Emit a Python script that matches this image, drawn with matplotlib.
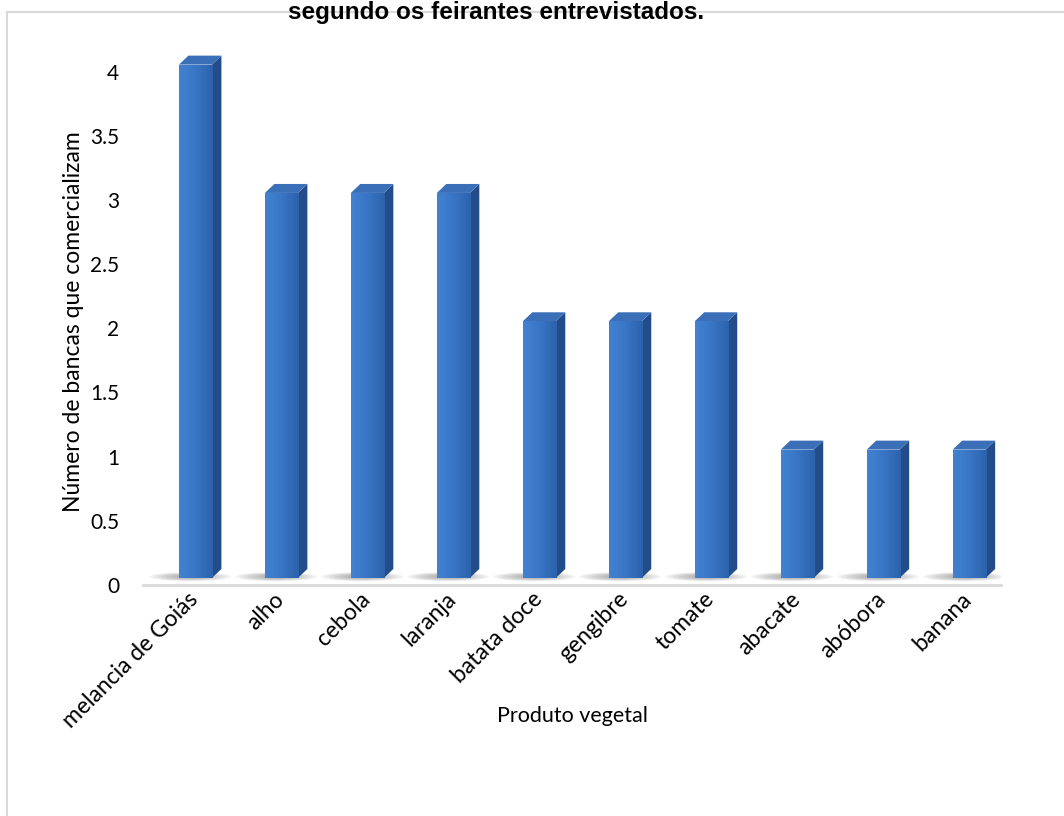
import numpy as np
import matplotlib.pyplot as plt
import matplotlib.transforms as mtrans
from matplotlib.patches import Polygon, Rectangle, Ellipse
from matplotlib.lines import Line2D
from matplotlib.colors import LinearSegmentedColormap

plt.rcParams['font.family'] = ['Lato', 'DejaVu Sans']

produtos = ['melancia de Goiás', 'alho', 'cebola', 'laranja', 'batata doce',
            'gengibre', 'tomate', 'abacate', 'abóbora', 'banana']
bancas = [4, 3, 3, 3, 2, 2, 2, 1, 1, 1]
yticks = [0, 0.5, 1, 1.5, 2, 2.5, 3, 3.5, 4]
ytick_labels = ['0', '0.5', '1', '1.5', '2', '2.5', '3', '3.5', '4']

W, H = 1064, 816
fig = plt.figure(figsize=(W / 100, H / 100), dpi=100)
ax = fig.add_axes([143 / W, 1 - 585 / H, (1001 - 143) / W, (585 - 46) / H])

# bar geometry (data units)
hw = 0.192            # half width of front face
dx, dy = 0.11, 0.07   # depth offset
base = 0.055

grad = np.linspace(0, 1, 64).reshape(1, -1)
front_cmap = LinearSegmentedColormap.from_list('front', ['#4282d2', '#3975c4', '#2c62ab'])

for i, v in enumerate(bancas):
    x0, x1 = i - hw, i + hw
    y0, y1 = base, base + v
    # floor shadow
    for k in range(8):
        ax.add_patch(Ellipse((i - 0.06, base + 0.01), 0.95 - k * 0.09, 0.07 - k * 0.006,
                             facecolor='#6f6f6f', edgecolor='none', alpha=0.08, zorder=1))
    # side face
    ax.add_patch(Polygon([(x1, y0), (x1 + dx, y0 + dy), (x1 + dx, y1 + dy), (x1, y1)],
                         closed=True, facecolor='#224d89', edgecolor='none', zorder=2))
    # top face
    ax.add_patch(Polygon([(x0, y1), (x0 + dx, y1 + dy), (x1 + dx, y1 + dy), (x1, y1)],
                         closed=True, facecolor='#3b70b9', edgecolor='none', zorder=2))
    # front face with gradient
    rect = Rectangle((x0, y0), 2 * hw, v, facecolor='none', edgecolor='none', zorder=3)
    ax.add_patch(rect)
    im = ax.imshow(grad, cmap=front_cmap, extent=(x0, x1, y0, y1), aspect='auto', zorder=3)
    im.set_clip_path(rect)

ax.set_xlim(-0.61, 9.37)
ax.set_ylim(0, 4.2)

for s in ['top', 'right', 'left']:
    ax.spines[s].set_visible(False)
ax.spines['bottom'].set_color('#d9d9d9')
ax.spines['bottom'].set_linewidth(2)

ax.set_yticks(yticks)
ax.set_yticklabels(ytick_labels)
ax.set_xticks(range(len(produtos)))
ax.set_xticklabels(produtos, rotation=45, ha='right', rotation_mode='anchor')
ax.tick_params(axis='both', length=0, labelsize=15, colors='black')
ax.tick_params(axis='x', labelsize=16.5, pad=4)
ax.tick_params(axis='y', pad=17)
shift = mtrans.ScaledTranslation(-8 / 100, 2 / 100, fig.dpi_scale_trans)
for lab in ax.get_xticklabels():
    lab.set_transform(lab.get_transform() + shift)

ax.set_ylabel('Número de bancas que comercializam', fontsize=16.5)
ax.yaxis.set_label_coords((84 - 143) / 858, (585 - 322) / 539)
ax.set_xlabel('Produto vegetal', fontsize=15.5)
ax.xaxis.set_label_coords(0.5, (585 - 706) / 539)

# chart border (only top and left visible)
fig.add_artist(Line2D([7 / W, 7 / W], [0, 1 - 12 / H], transform=fig.transFigure,
                      color='#d9d9d9', lw=1.5))
fig.add_artist(Line2D([7 / W, 1], [1 - 12 / H, 1 - 12 / H], transform=fig.transFigure,
                      color='#d9d9d9', lw=1.5))

fig.text(496 / W, 1 - 1 / H, 'segundo os feirantes entrevistados.', ha='center', va='top',
         fontsize=17.5, fontweight='bold', family='Liberation Sans')

fig.savefig('out.png', dpi=100)
